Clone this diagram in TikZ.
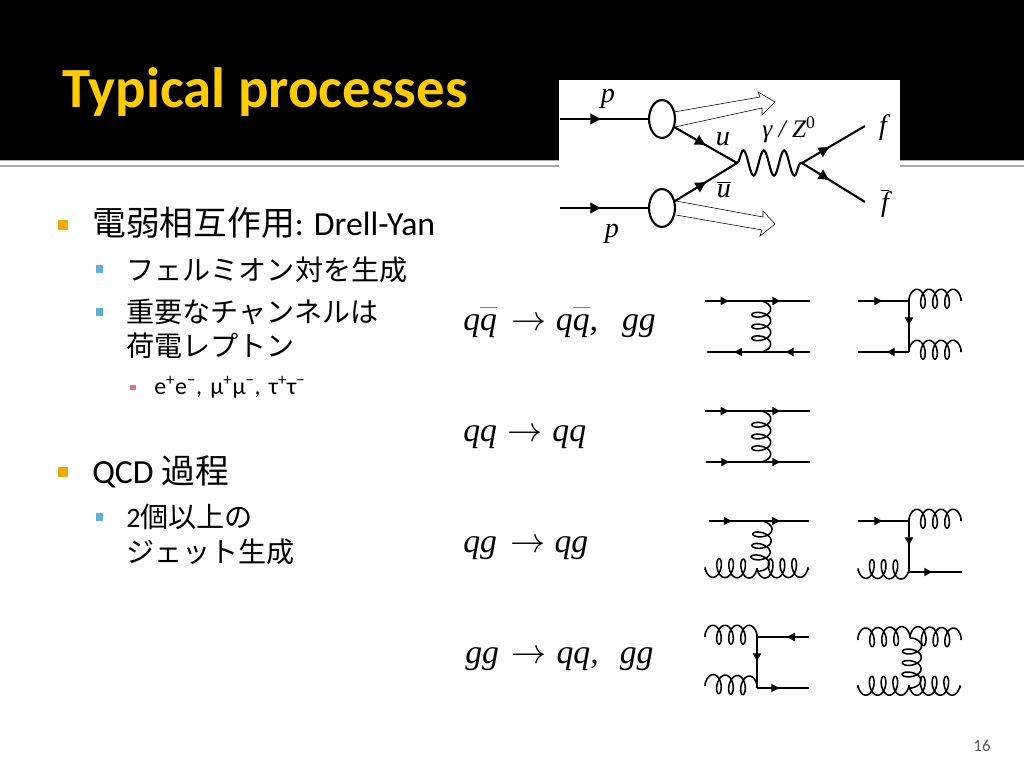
\documentclass[tikz,border=0pt]{standalone}
\usepackage{fontspec}
\setmainfont{Carlito}
\newfontfamily\jpfont{Noto Sans CJK JP}
\newfontfamily\timesfont{Liberation Serif}
\usetikzlibrary{arrows.meta}
\usetikzlibrary{shapes.geometric}
\usetikzlibrary{decorations.pathmorphing}
\usetikzlibrary{decorations.markings}
\definecolor{titleyellow}{RGB}{255, 204, 0}
\definecolor{bulletorange}{RGB}{240, 171, 0}
\definecolor{bulletblue}{RGB}{96, 178, 208}
\definecolor{bulletpink}{RGB}{232, 106, 135}
\definecolor{rulegray}{RGB}{170, 170, 170}
\definecolor{pagegray}{RGB}{90, 90, 90}
\newcommand{\barred}[3]{\hbox{\vbox{{\color{#2}\hrule height 0.9pt}\kern #1\hbox{#3}}}}
\newcommand{\barq}{\barred{4pt}{gray}{q}}
\newcommand{\yields}[2]{\hspace{#1}$\rightarrow$\hspace{#2}}
% three loops, whatever the length of the line
\pgfdeclaredecoration{gluonwave}{trace}{
    \state{trace}[width=\pgfdecoratedpathlength, next state=final]{
        \pgfmathsetmacro{\gluonstep}{(\pgfdecoratedpathlength-7)/(7*pi)}
        \foreach \t in {-90,-80,...,1170}{
            \pgfmathsetmacro{\gluonx}{3.5+\gluonstep*rad(\t+90)+3.5*sin(\t)}
            \pgfmathsetmacro{\gluony}{\pgfdecorationsegmentamplitude*cos(\t)}
            \pgfpathlineto{\pgfqpoint{\gluonx pt}{\gluony pt}}
        }
    }
    \state{final}{\pgfpathlineto{\pgfpointdecoratedpathlast}}
}
\tikzset{
    lineone/.style  = {anchor=base west, font=\fontsize{24}{28}\selectfont, inner sep=0pt},
    linetwo/.style  = {anchor=base west, font=\fontsize{20}{24}\selectfont, inner sep=0pt},
    linethree/.style= {anchor=base west, font=\fontsize{17}{20}\selectfont, inner sep=0pt},
    procname/.style = {anchor=base west, font=\timesfont\itshape\fontsize{24}{28}\selectfont, inner sep=0pt},
    feynlabel/.style= {font=\timesfont\itshape\fontsize{20}{22}\selectfont, inner sep=0pt},
    fermion/.style  = {line width=1.1pt, postaction={decorate, decoration={markings,
                       mark=at position #1 with {\arrow{Latex[length=6.5pt,width=6.5pt]}}}}},
    hardline/.style = {line width=1.5pt, postaction={decorate, decoration={markings,
                       mark=at position #1 with {\arrow{Latex[length=8.5pt,width=8.5pt]}}}}},
    gluon/.style    = {line width=1.1pt, line join=round, decorate, decoration={gluonwave, amplitude=6.7pt, raise=1.6pt}},
    gluondown/.style= {line width=1.1pt, line join=round, decorate, decoration={gluonwave, mirror, amplitude=6.7pt, raise=-1.6pt}},
    hollowarrow/.style = {line width=0.4pt, fill=white},
    blob/.style     = {draw, ellipse, line width=1.5pt, minimum width=26*0.7087pt, minimum height=38*0.7087pt, inner sep=0pt, fill=white},
}
\begin{document}
\begin{tikzpicture}[x=0.025cm, y=-0.025cm]
    \useasboundingbox (0,0) rectangle (1024,768);
    % header band
    \fill[black]    (0,  0.0) rectangle (1024,160);
    \fill[rulegray] (0,160.0) rectangle (1024,161.2);
    \fill[rulegray] (0,165.5) rectangle (1024,167.5);
    \node[anchor=base west, inner sep=0pt, text=titleyellow, font=\bfseries\fontsize{40.4}{44}\selectfont] (title) at (62,108) {Typical processes};
    \node[anchor=center, inner sep=0pt, text=pagegray, font=\fontsize{12}{14}\selectfont] (page) at (982,746) {16};

    % bullets
    \fill[bulletorange] ( 58,220) rectangle ( 68,230);
    \fill[bulletblue]   ( 96,265) rectangle (103,273);
    \fill[bulletblue]   ( 96,308) rectangle (103,316);
    \fill[bulletpink]   (130,385) rectangle (136,390);
    \fill[bulletorange] ( 58,467) rectangle ( 68,477);
    \fill[bulletblue]   ( 96,513) rectangle (103,521);

    % text
    \node[lineone]   (ewk)   at ( 92,235) {{\jpfont 電弱相互作用}: Drell-Yan};
    \node[linetwo]   (ferm)  at (126,280) {\jpfont フェルミオン対を生成};
    \node[linetwo]   (chan)  at (126,322) {\jpfont 重要なチャンネルは};
    \node[linetwo]   (lept)  at (126,356) {\jpfont 荷電レプトン};
    \node[linethree] (pairs) at (154,394) {e\textsuperscript{+}e\textsuperscript{−},\hspace{2pt} μ\textsuperscript{+}μ\textsuperscript{−},\hspace{2pt} τ\textsuperscript{+}τ\textsuperscript{−}};
    \node[lineone]   (qcd)   at ( 92,483) {QCD {\jpfont 過程}};
    \node[linetwo]   (jeta)  at (126,527) {2{\jpfont 個以上の}};
    \node[linetwo]   (jetb)  at (126,562) {\jpfont ジェット生成};

    % processes
    \node[procname] (rowa) at (463,330) {q\barq\yields{10.5pt}{6.5pt}q\barq,\hspace{17pt}gg};
    \node[procname] (rowb) at (463,441) {qq\yields{7.5pt}{7pt}qq};
    \node[procname] (rowc) at (463,552) {qg\yields{9.7pt}{6.3pt}qg};
    \node[procname] (rowd) at (465,663) {gg\yields{9pt}{7pt}qq,\hspace{15pt}gg};

    % Drell-Yan picture
    \fill[white] (559,80) rectangle (900,250);
    \coordinate (pa) at (560,119);
    \coordinate (pb) at (560,208);
    \coordinate (ua) at (674,127);
    \coordinate (ub) at (675,201);
    \coordinate (va) at (737,163);
    \coordinate (vb) at (802,163);
    \coordinate (fa) at (865,126);
    \coordinate (fb) at (865,202);
    \draw[hollowarrow] (674,112) -- (760, 97) -- (758, 92) -- (775,102) -- (762,115) -- (762,108) -- (675,127);
    \draw[hollowarrow] (676,201) -- (763,217) -- (763,211) -- (775,224) -- (760,236) -- (762,230) -- (676,215);
    \node[blob] (bloba) at (662,119) {};
    \node[blob] (blobb) at (662,208) {};
    \draw[hardline=0.48] (pa) -- (bloba);
    \draw[hardline=0.48] (pb) -- (blobb);
    \draw[hardline=0.52] (ua) -- (va);
    \draw[hardline=0.52] (ub) -- (va);
    \draw[hardline=0.45] (vb) -- (fa);
    \draw[hardline=0.45] (vb) -- (fb);
    \draw[line width=1.5pt, decorate, decoration={snake, amplitude=9pt, segment length=14.5pt}] (va) -- (vb);
    \node[feynlabel] (pup)   at (608, 99) {p};
    \node[feynlabel] (pdown) at (612,234) {p};
    \node[feynlabel] (uq)    at (723,139) {u};
    \node[feynlabel] (ubar)  at (724,190) {\barred{1.5pt}{black}{u}};
    \node[feynlabel] (bos)   at (789,130) {\fontsize{18}{20}\selectfont γ / Z\textsuperscript{\upshape 0}};
    \node[feynlabel] (fq)    at (883,128) {f};
    \node[feynlabel] (fbar)  at (885,204) {\barred{0.5pt}{black}{f}};

    % q qbar t-channel
    \coordinate (aa) at (705,301);
    \coordinate (ab) at (759,301);
    \coordinate (ac) at (810,301);
    \coordinate (ad) at (707,352);
    \coordinate (ae) at (759,352);
    \coordinate (af) at (810,352);
    \draw[fermion=0.46] (aa) -- (ab);
    \draw[fermion=0.44] (ab) -- (ac);
    \draw[fermion=0.50] (ae) -- (ad);
    \draw[fermion=0.50] (af) -- (ae);
    \draw[gluon] (ab) -- (ae);

    % q qbar to g g
    \coordinate (ba) at (858,301);
    \coordinate (bb) at (909,301);
    \coordinate (bc) at (961,301);
    \coordinate (bd) at (858,352);
    \coordinate (be) at (909,352);
    \coordinate (bf) at (961,352);
    \draw[fermion=0.50] (ba) -- (bb);
    \draw[fermion=0.50] (bb) -- (be);
    \draw[fermion=0.46] (be) -- (bd);
    \draw[gluon] (bb) -- (bc);
    \draw[gluon] (be) -- (bf);

    % q q t-channel
    \coordinate (ca) at (705,411);
    \coordinate (cb) at (759,411);
    \coordinate (cc) at (810,411);
    \coordinate (cd) at (706,462);
    \coordinate (ce) at (759,462);
    \coordinate (cf) at (810,462);
    \draw[fermion=0.46] (ca) -- (cb);
    \draw[fermion=0.44] (cb) -- (cc);
    \draw[fermion=0.46] (cd) -- (ce);
    \draw[fermion=0.44] (ce) -- (cf);
    \draw[gluon] (cb) -- (ce);

    % q g t-channel
    \coordinate (da) at (709,521);
    \coordinate (db) at (761,521);
    \coordinate (dc) at (809,521);
    \coordinate (dd) at (705,570);
    \coordinate (de) at (757,571);
    \coordinate (df) at (808,570);
    \draw[fermion=0.46] (da) -- (db);
    \draw[fermion=0.42] (db) -- (dc);
    \draw[gluon] (db) -- (de);
    \draw[gluondown] (dd) -- (de);
    \draw[gluondown] (de) -- (df);

    % q g to q g
    \coordinate (ea) at (858,521);
    \coordinate (eb) at (909,521);
    \coordinate (ec) at (961,521);
    \coordinate (ed) at (858,571);
    \coordinate (ee) at (909,572);
    \coordinate (ef) at (962,572);
    \draw[fermion=0.50] (ea) -- (eb);
    \draw[fermion=0.50] (eb) -- (ee);
    \draw[fermion=0.46] (ee) -- (ef);
    \draw[gluon] (eb) -- (ec);
    \draw[gluondown] (ed) -- (ee);

    % g g to q qbar
    \coordinate (fc) at (705,637);
    \coordinate (fd) at (757,637);
    \coordinate (fe) at (809,637);
    \coordinate (ff) at (705,686);
    \coordinate (fg) at (757,688);
    \coordinate (fh) at (809,688);
    \draw[gluon] (fc) -- (fd);
    \draw[gluon] (ff) -- (fg);
    \draw[fermion=0.45] (fe) -- (fd);
    \draw[fermion=0.50] (fd) -- (fg);
    \draw[fermion=0.45] (fg) -- (fh);

    % g g to g g
    \coordinate (ga) at (858,640);
    \coordinate (gb) at (910,638);
    \coordinate (gc) at (961,640);
    \coordinate (gd) at (858,688);
    \coordinate (ge) at (909,688);
    \coordinate (gf) at (960,688);
    \draw[gluon] (ga) -- (gb);
    \draw[gluon] (gb) -- (gc);
    \draw[gluondown] (gd) -- (ge);
    \draw[gluondown] (ge) -- (gf);
    \draw[gluon] (gb) -- (ge);
\end{tikzpicture}
\end{document}
